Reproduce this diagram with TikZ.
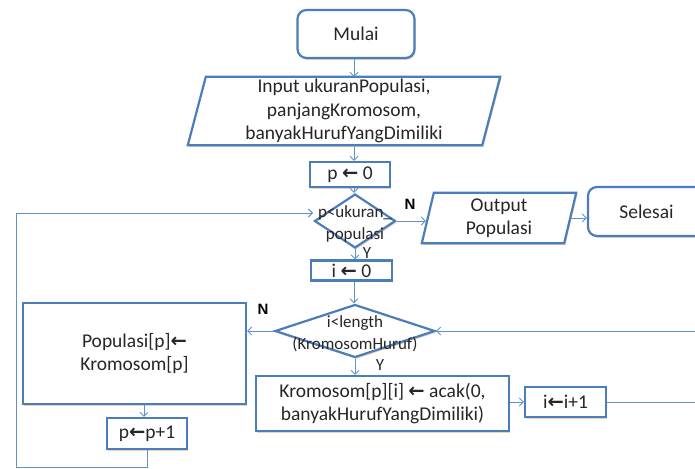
\documentclass[tikz,border=0pt]{standalone}
\usepackage{fontspec}
\setmainfont{Carlito}
\newfontfamily\arrowfont{DejaVu Sans}
\newfontfamily\markfont{Liberation Sans}
\usetikzlibrary{arrows.meta,shapes.geometric,shadows,backgrounds,calc}
\definecolor{boxblue}{RGB}{74,126,187}
\definecolor{linkblue}{RGB}{96,146,206}
\definecolor{shadowtan}{RGB}{226,196,168}
\definecolor{inkgray}{RGB}{38,38,38}
\newcommand{\larr}{{\arrowfont\bfseries\char"2190}}
\tikzset{
  shade/.style={drop shadow={shadow xshift=1.2pt, shadow yshift=-1.8pt, fill=shadowtan, opacity=0.75}},
  box/.style={draw=boxblue, line width=2.2pt, fill=white, inner sep=0pt, align=center,
              text=inkgray, font=\fontsize{19.5}{23.5}\selectfont, shade},
  rbox/.style={box, rounded corners=9pt},
  outline/.style={draw=boxblue, line width=2.2pt, fill=white, shade},
  txt/.style={inner sep=0pt, align=center, text=inkgray, font=\fontsize{19.5}{23.5}\selectfont},
  dtxt/.style={inner sep=0pt, align=center, text=inkgray, font=\fontsize{17}{21.5}\selectfont},
  dia/.style={box, diamond},
  conn/.style={draw=linkblue, line width=0.9pt, -{Straight Barb[length=4pt,width=8pt]}},
  bmark/.style={inner sep=0pt, font=\markfont\bfseries\fontsize{15}{15}\selectfont},
  ymark/.style={inner sep=0pt, text=inkgray, font=\fontsize{17}{17}\selectfont},
}
\begin{document}
\begin{tikzpicture}[x=1pt,y=-1pt]
\useasboundingbox (0,0) rectangle (695,468);
\clip (0,0) rectangle (695,468);

% main column
\node[rbox, minimum width=117pt, minimum height=48pt] (mulai) at (356,34) {Mulai};
\node[txt, minimum width=312pt, minimum height=68pt] (inp) at (344,111)
  {Input ukuranPopulasi,\\panjangKromosom,\\banyakHurufYangDimiliki};
\node[box, minimum width=80pt, minimum height=25pt] (p0) at (350,174.5) {p \larr\ 0};
\node[dia, minimum width=81pt, minimum height=54pt] (d1) at (355,221) {};
\node[dtxt] (d1t) at (355,224) {p<ukuran\_\\populasi};
\node[box, minimum width=81pt, minimum height=20pt] (i0) at (351.5,270.5) {i \larr\ 0};
\node[dia, minimum width=160pt, minimum height=53pt] (d2) at (355,331) {};
\node[dtxt] (d2t) at (355,334) {i<length\\(KromosomHuruf)};
\node[box, minimum width=253pt, minimum height=55pt] (krom) at (382.5,403.5)
  {Kromosom[p][i] \larr\ acak(0,\\banyakHurufYangDimiliki)};
\node[box, minimum width=81pt, minimum height=30pt] (ii1) at (565.5,402) {i\larr i+1};

% right branch
\node[txt, minimum width=154pt, minimum height=50pt] (outp) at (499,218) {Output\\Populasi};
\node[rbox, minimum width=117pt, minimum height=49pt] (sel) at (646.5,211.5) {Selesai};

% left branch
\node[box, minimum width=223pt, minimum height=101pt] (pop) at (134.5,353.5)
  {Populasi[p]\larr\\Kromosom[p]};
\node[box, minimum width=80pt, minimum height=31pt] (pp1) at (147,433.5) {p\larr p+1};

% white sheet and parallelogram outlines behind their texts
\begin{scope}[on background layer]
  \fill[white] (0,0) rectangle (695,468);
  \path[outline] (inp.south west) -- ([xshift=18pt]inp.north west) -- (inp.north east)
    -- ([xshift=-18pt]inp.south east) -- cycle;
  \path[outline] (outp.south west) -- ([xshift=12pt]outp.north west) -- (outp.north east)
    -- ([xshift=-12pt]outp.south east) -- cycle;
\end{scope}

% branch labels
\node[bmark] (n1) at (410,204) {N};
\node[ymark] (y1) at (367,253) {Y};
\node[bmark] (n2) at (263,309) {N};
\node[ymark] (y2) at (380,365) {Y};

% connectors
\coordinate (col) at (354,0);
\coordinate (pin) at (313,213);
\coordinate (rr) at (702,331);
\draw[conn] (mulai.south -| col) -- (inp.north -| col);
\draw[conn] (inp.south -| col) -- (p0.north -| col);
\draw[conn] (p0.south -| col) -- (d1.north -| col);
\draw[conn] (d1.south) -- (i0.north -| d1.south);
\draw[conn] (i0.south -| col) -- (d2.north -| col);
\draw[conn] (d2.south) -- (krom.north -| d2.south);
\draw[conn] (d1.east) -- ($(outp.west |- d1.east)+(4,0)$);
\draw[conn] ($(outp.east)+(-6,0)$) -- (sel.west |- outp.east);
\draw[conn] (d2.west) -- (pop.east |- d2.west);
\draw[conn] (pop.south -| 144,0) -- (pp1.north -| 144,0);
\draw[conn] (pp1.south) |- (16,467) |- (pin);
\draw[conn] (krom.east |- ii1.west) -- (ii1.west);
\draw[conn] (ii1.east) -| (rr) -- (d2.east);
\end{tikzpicture}
\end{document}
